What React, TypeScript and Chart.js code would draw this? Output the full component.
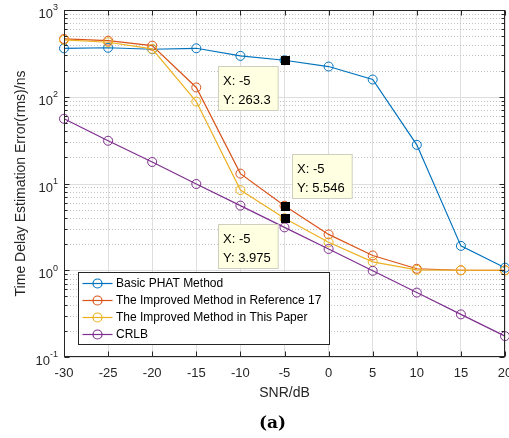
import React, { useEffect, useRef } from 'react';
import { Chart, registerables } from 'chart.js';

Chart.register(...registerables);

// ---------- data ----------
const snr = [-30, -25, -20, -15, -10, -5, 0, 5, 10, 15, 20];
const basicPhat = [362, 367, 353, 362, 296, 263.3, 223, 158, 27.9, 1.91, 1.07];
const reference17 = [464, 443, 388, 128, 13.0, 5.546, 2.59, 1.48, 1.04, 1.0, 1.0];
const thisPaper = [452, 425, 356, 88, 8.4, 3.975, 2.1, 1.25, 1.01, 1.0, 1.0];
const crlb = [55.7, 31.1, 17.7, 9.87, 5.56, 3.12, 1.76, 0.985, 0.553, 0.31, 0.174];

const seriesLabels = [
  'Basic PHAT Method',
  'The Improved Method in Reference 17',
  'The Improved Method in This Paper',
  'CRLB',
];
const seriesValues = [basicPhat, reference17, thisPaper, crlb];
const seriesColors = ['#0072BD', '#D95319', '#EDB120', '#7E2F8E'];

const xTickValues = [-30, -25, -20, -15, -10, -5, 0, 5, 10, 15, 20];
const yTickExponents = [-1, 0, 1, 2, 3];
const xTitle = 'SNR/dB';
const yTitle = 'Time Delay Estimation Error(rms)/ns';
const panelLabel = '(a)';

// data tips: dataset index, point index, where the box sits
const dataTipSeries = [0, 1, 2];
const dataTipIndex = [5, 5, 5];
const dataTipSide = ['below-left', 'above-right', 'below-left'];

const FONT = '"Liberation Sans", Arial, Helvetica, sans-serif';
const AXIS = '#262626';

const decorPlugin = {
  id: 'decor',
  beforeDatasetsDraw(chart: any) {
    const { ctx, chartArea: ca, scales } = chart;
    const y = scales.y;
    ctx.save();
    // minor y grid (dotted)
    ctx.strokeStyle = '#c4c4c4';
    ctx.lineWidth = 1;
    ctx.setLineDash([1, 2]);
    for (let e = yTickExponents[0]; e < yTickExponents[yTickExponents.length - 1]; e++) {
      for (let m = 2; m <= 9; m++) {
        const p = Math.round(y.getPixelForValue(m * Math.pow(10, e))) + 0.5;
        ctx.beginPath();
        ctx.moveTo(ca.left, p);
        ctx.lineTo(ca.right, p);
        ctx.stroke();
      }
    }
    ctx.setLineDash([]);
    // major y grid
    ctx.strokeStyle = '#dedede';
    yTickExponents.forEach((e) => {
      const p = Math.round(y.getPixelForValue(Math.pow(10, e))) + 0.5;
      ctx.beginPath();
      ctx.moveTo(ca.left, p);
      ctx.lineTo(ca.right, p);
      ctx.stroke();
    });
    ctx.restore();
  },
  afterDatasetsDraw(chart: any) {
    const { ctx, chartArea: ca, scales } = chart;
    const x = scales.x;
    const y = scales.y;
    ctx.save();
    // axes box
    const L = Math.round(ca.left) + 0.5;
    const R = Math.round(ca.right) - 0.5;
    const T = Math.round(ca.top) + 0.5;
    const B = Math.round(ca.bottom) - 0.5;
    ctx.strokeStyle = AXIS;
    ctx.lineWidth = 1;
    ctx.strokeRect(L, T, R - L, B - T);
    // ticks
    ctx.beginPath();
    xTickValues.forEach((v) => {
      const p = Math.round(x.getPixelForValue(v)) + 0.5;
      ctx.moveTo(p, B);
      ctx.lineTo(p, B - 5);
      ctx.moveTo(p, T);
      ctx.lineTo(p, T + 5);
    });
    for (let e = yTickExponents[0]; e <= yTickExponents[yTickExponents.length - 1]; e++) {
      const p0 = Math.round(y.getPixelForValue(Math.pow(10, e))) + 0.5;
      ctx.moveTo(L, p0);
      ctx.lineTo(L + 5, p0);
      ctx.moveTo(R, p0);
      ctx.lineTo(R - 5, p0);
      if (e < yTickExponents[yTickExponents.length - 1]) {
        for (let m = 2; m <= 9; m++) {
          const p = Math.round(y.getPixelForValue(m * Math.pow(10, e))) + 0.5;
          ctx.moveTo(L, p);
          ctx.lineTo(L + 3, p);
          ctx.moveTo(R, p);
          ctx.lineTo(R - 3, p);
        }
      }
    }
    ctx.stroke();

    // y tick labels with superscripts
    ctx.fillStyle = AXIS;
    ctx.textBaseline = 'middle';
    ctx.textAlign = 'left';
    yTickExponents.forEach((e) => {
      const p = y.getPixelForValue(Math.pow(10, e));
      ctx.font = `13px ${FONT}`;
      const base = '10';
      const wb = ctx.measureText(base).width;
      ctx.font = `9px ${FONT}`;
      const ex = String(e);
      const we = ctx.measureText(ex).width;
      const xEnd = ca.left - 6;
      ctx.font = `13px ${FONT}`;
      ctx.fillText(base, xEnd - we - wb, p + 4.5);
      ctx.font = `9px ${FONT}`;
      ctx.fillText(ex, xEnd - we, p - 2);
    });

    // data tips
    dataTipSeries.forEach((si, k) => {
      const idx = dataTipIndex[k];
      const pt = chart.getDatasetMeta(si).data[idx];
      const px = pt.x;
      const py = pt.y;
      ctx.fillStyle = '#000000';
      ctx.fillRect(Math.round(px) - 4, Math.round(py) - 4, 9, 9);
      const l1 = `X: ${snr[idx]}`;
      const l2 = `Y: ${Number(seriesValues[si][idx].toPrecision(4))}`;
      ctx.font = `13px ${FONT}`;
      const w = Math.max(ctx.measureText(l1).width, ctx.measureText(l2).width) + 12;
      const h = 44;
      let bx: number;
      let by: number;
      if (dataTipSide[k] === 'below-left') {
        bx = px - 67;
        by = py + 6;
      } else {
        bx = px + 7;
        by = py - 52;
      }
      bx = Math.round(bx) + 0.5;
      by = Math.round(by) + 0.5;
      ctx.fillStyle = '#ffffe1';
      ctx.fillRect(bx, by, w, h);
      ctx.strokeStyle = '#cfcfbf';
      ctx.strokeRect(bx, by, w, h);
      ctx.fillStyle = '#000000';
      ctx.textBaseline = 'middle';
      ctx.textAlign = 'left';
      ctx.fillText(l1, bx + 4.5, by + 15);
      ctx.fillText(l2, bx + 4.5, by + 34);
    });
    ctx.restore();
  },
  afterDraw(chart: any) {
    const { ctx, chartArea: ca } = chart;
    ctx.save();
    // legend
    const lx = Math.round(ca.left + 14) + 0.5;
    const ly = Math.round(ca.bottom - 85) + 0.5;
    const lw = 251;
    const lh = 72;
    ctx.fillStyle = '#ffffff';
    ctx.fillRect(lx, ly, lw, lh);
    ctx.strokeStyle = AXIS;
    ctx.lineWidth = 1;
    ctx.strokeRect(lx, ly, lw, lh);
    chart.data.datasets.forEach((ds: any, i: number) => {
      const ry = ly + 11 + i * 17;
      ctx.strokeStyle = ds.borderColor;
      ctx.lineWidth = 1.2;
      ctx.beginPath();
      ctx.moveTo(lx + 4, ry);
      ctx.lineTo(lx + 34, ry);
      ctx.stroke();
      ctx.beginPath();
      ctx.arc(lx + 19, ry, 4.5, 0, Math.PI * 2);
      ctx.stroke();
      ctx.fillStyle = '#000000';
      ctx.font = `12px ${FONT}`;
      ctx.textBaseline = 'middle';
      ctx.textAlign = 'left';
      ctx.fillText(ds.label, lx + 37.5, ry + 0.5);
    });
    // panel label
    ctx.fillStyle = '#000000';
    ctx.font = `bold 17px "DejaVu Serif", "Liberation Serif", serif`;
    ctx.textAlign = 'center';
    ctx.textBaseline = 'middle';
    ctx.fillText(panelLabel, 272.5, 424);
    ctx.restore();
  },
};

export default function App() {
  const ref = useRef<HTMLCanvasElement | null>(null);
  useEffect(() => {
    if (!ref.current) return;
    const chart = new Chart(ref.current, {
      type: 'line',
      data: {
        datasets: seriesValues.map((vals, i) => ({
          label: seriesLabels[i],
          data: snr.map((s, j) => ({ x: s, y: vals[j] })),
          borderColor: seriesColors[i],
          backgroundColor: 'rgba(0,0,0,0)',
          borderWidth: 1.2,
          pointRadius: 4.5,
          pointBorderWidth: 1,
          pointBackgroundColor: 'rgba(0,0,0,0)',
          pointBorderColor: seriesColors[i],
          pointStyle: 'circle',
          tension: 0,
          fill: false,
          clip: false as any,
          order: 3 - i,
        })),
      },
      options: {
        animation: false,
        responsive: false,
        devicePixelRatio: 1,
        events: [],
        layout: { padding: { left: 0, top: 10, right: 25, bottom: 0 } },
        plugins: {
          legend: { display: false },
          tooltip: { enabled: false },
        },
        scales: {
          x: {
            type: 'linear',
            min: -30,
            max: 20,
            afterBuildTicks: (s: any) => {
              s.ticks = xTickValues.map((v) => ({ value: v }));
            },
            ticks: {
              font: { family: FONT, size: 13 },
              color: AXIS,
              padding: 9,
              maxRotation: 0,
              autoSkip: false,
              callback: (v: any) => String(v),
            },
            grid: { color: '#dedede', lineWidth: 1, drawTicks: false },
            border: { display: false },
            title: {
              display: true,
              text: xTitle,
              font: { family: FONT, size: 14 },
              color: AXIS,
              padding: { top: 0, bottom: 36.6 },
            },
            afterFit: (s: any) => {
              s.height = 81;
            },
          },
          y: {
            type: 'logarithmic',
            min: 0.1,
            max: 1000,
            ticks: { display: false },
            grid: { display: false },
            border: { display: false },
            title: {
              display: true,
              text: yTitle,
              font: { family: FONT, size: 14 },
              color: AXIS,
              padding: { top: 12.6, bottom: 0 },
            },
            afterFit: (s: any) => {
              s.width = 64;
            },
          },
        },
      } as any,
      plugins: [decorPlugin],
    });
    return () => chart.destroy();
  }, []);
  return (
    <div
      style={{
        position: 'fixed',
        left: 0,
        top: 0,
        width: 509,
        height: 438,
        overflow: 'hidden',
        background: '#ffffff',
      }}
    >
      <canvas ref={ref} width={530} height={438} style={{ width: 530, height: 438, display: 'block' }} />
    </div>
  );
}
